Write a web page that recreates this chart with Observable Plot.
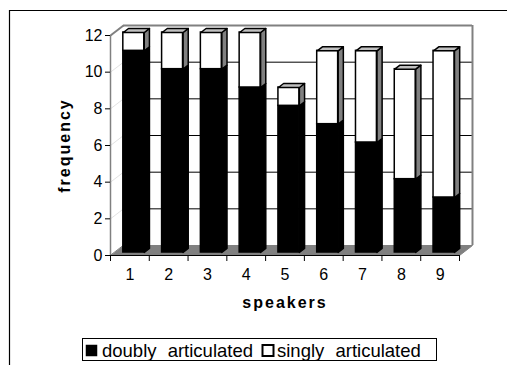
<!DOCTYPE html>
<html>
<head>
<meta charset="utf-8">
<script src="https://cdn.jsdelivr.net/npm/d3@7"></script>
<script src="https://cdn.jsdelivr.net/npm/@observablehq/plot@0.6"></script>
<style>
  body { margin: 0; background: #fff; }
  #chart { position: relative; width: 507px; height: 365px; overflow: hidden; }
</style>
</head>
<body>
<div id="chart"></div>
<script>
// Speakers on the x axis, stacked counts per articulation type
const speakers = [1, 2, 3, 4, 5, 6, 7, 8, 9];
const doubly = [11, 10, 10, 9, 8, 7, 6, 4, 3];
const singly = [1, 2, 2, 3, 1, 4, 5, 6, 8];
const seriesNames = ["doubly articulated", "singly articulated"];
const yTicks = [0, 2, 4, 6, 8, 10, 12];
const xTitle = "speakers";
const yTitle = "frequency";

// Oblique depth of the 3-D box, expressed in data units (x: category, y: frequency)
const depth = {x: 0.335, y: 0.545};
const barFront = 0.3, barBack = 0.7, halfWidth = 0.27;
const f = {x: depth.x * barFront, y: depth.y * barFront};
const b = {x: depth.x * barBack, y: depth.y * barBack};

const xMin = speakers[0] - 0.5, xMax = speakers[speakers.length - 1] + 0.5;
const yMax = yTicks[yTicks.length - 1];
const boundaries = [xMin, ...speakers.map(s => s + 0.5)];

// Stacked segments
const segments = [];
speakers.forEach((s, i) => {
  segments.push({s, series: 0, y0: 0, y1: doubly[i]});
  segments.push({s, series: 1, y0: doubly[i], y1: doubly[i] + singly[i]});
});

// Right-hand side face of each segment
const sideFaces = segments.flatMap((d, k) => {
  const xr = d.s + halfWidth;
  return [[xr + f.x, d.y0 + f.y], [xr + b.x, d.y0 + b.y], [xr + b.x, d.y1 + b.y], [xr + f.x, d.y1 + f.y]]
    .map(([x, y]) => ({x, y, id: k, series: d.series}));
});
// Top face of each stack
const topFaces = segments.filter(d => d.series === 1).flatMap((d, k) => {
  const xl = d.s - halfWidth, xr = d.s + halfWidth, t = d.y1;
  return [[xl + f.x, t + f.y], [xr + f.x, t + f.y], [xr + b.x, t + b.y], [xl + b.x, t + b.y]]
    .map(([x, y]) => ({x, y, id: k}));
});
// Floor of the box
const floor = [[xMin, 0], [xMax, 0], [xMax + depth.x, depth.y], [xMin + depth.x, depth.y]]
  .map(([x, y]) => ({x, y}));

const gray = "#808080";
const font = "'Liberation Sans', Arial, sans-serif";

const chart = Plot.plot({
  width: 507,
  height: 365,
  marginLeft: 110,
  marginRight: 48,
  marginTop: 35,
  marginBottom: 110,
  style: {fontFamily: font, fontSize: "15px", background: "white", overflow: "visible"},
  x: {type: "linear", domain: [xMin, xMax]},
  y: {type: "linear", domain: [0, yMax]},
  marks: [
    // back wall
    Plot.rect([0], {x1: xMin + depth.x, x2: xMax + depth.x, y1: depth.y, y2: yMax + depth.y, fill: "white"}),
    Plot.ruleY(yTicks.filter(v => v > 0 && v < yMax), {y: d => d + depth.y, x1: xMin + depth.x, x2: xMax + depth.x, stroke: "black", strokeWidth: 1}),
    // faint lines on the side wall
    Plot.link(yTicks.filter(v => v > 0 && v < yMax), {x1: xMin, y1: d => d, x2: xMin + depth.x, y2: d => d + depth.y, stroke: "#e2e2e2", strokeWidth: 1}),
    // wall edges
    Plot.ruleY([yMax], {y: d => d + depth.y, x1: xMin + depth.x, x2: xMax + depth.x, stroke: gray, strokeWidth: 2}),
    Plot.ruleX([xMax], {x: d => d + depth.x, y1: depth.y, y2: yMax + depth.y, stroke: gray, strokeWidth: 2}),
    Plot.link([0], {x1: xMin, y1: yMax, x2: xMin + depth.x, y2: yMax + depth.y, stroke: gray, strokeWidth: 2}),
    Plot.ruleX([xMin], {y1: 0, y2: yMax, stroke: gray, strokeWidth: 1.5}),
    // floor
    Plot.line(floor, {x: "x", y: "y", fill: gray, stroke: gray, strokeWidth: 1, curve: "linear-closed"}),
    // bars: side faces, front faces, top faces
    Plot.line(sideFaces.filter(d => d.series === 0), {x: "x", y: "y", z: "id", fill: "black", stroke: "black", strokeWidth: 1.5, curve: "linear-closed"}),
    Plot.line(sideFaces.filter(d => d.series === 1), {x: "x", y: "y", z: "id", fill: gray, stroke: "black", strokeWidth: 1.5, curve: "linear-closed"}),
    Plot.rect(segments.filter(d => d.series === 0), {x1: d => d.s - halfWidth + f.x, x2: d => d.s + halfWidth + f.x, y1: d => d.y0 + f.y, y2: d => d.y1 + f.y, fill: "black", stroke: "black", strokeWidth: 1.5}),
    Plot.rect(segments.filter(d => d.series === 1), {x1: d => d.s - halfWidth + f.x, x2: d => d.s + halfWidth + f.x, y1: d => d.y0 + f.y, y2: d => d.y1 + f.y, fill: "white", stroke: "black", strokeWidth: 1.5}),
    Plot.line(topFaces, {x: "x", y: "y", z: "id", fill: "#c0c0c0", stroke: "black", strokeWidth: 1.5, curve: "linear-closed"}),
    // axes
    Plot.ruleY([0], {x1: xMin, x2: xMax, stroke: "black", strokeWidth: 1}),
    Plot.axisY({ticks: yTicks, tickSize: 5, tickPadding: 3, label: null, stroke: "black", fontSize: 16}),
    Plot.axisX({ticks: boundaries, tickSize: 6, tickFormat: () => "", label: null, stroke: "black"}),
    Plot.axisX({ticks: speakers, tickSize: 0, tickPadding: 13, label: null, fontSize: 16}),
    Plot.text([yTitle], {frameAnchor: "left", dx: -46, rotate: -90, textAnchor: "middle", lineAnchor: "middle", fontSize: 16, fontWeight: "bold"}),
    Plot.text([xTitle], {frameAnchor: "bottom", dy: 47, textAnchor: "middle", lineAnchor: "middle", fontSize: 16, fontWeight: "bold"})
  ]
});

document.getElementById("chart").appendChild(chart);
const svg = d3.select(chart);
svg.selectAll("text")
  .filter(function() { return this.textContent === xTitle || this.textContent === yTitle; })
  .style("letter-spacing", "2px");

// outer chart border
svg.append("path")
  .attr("d", "M9.5,366V10.5H508")
  .attr("fill", "none").attr("stroke", "black").attr("stroke-width", 1.2);

// legend
const legend = svg.append("g")
  .attr("font-size", 18.5).attr("font-family", font).attr("text-anchor", "start");
legend.append("rect").attr("x", 82.5).attr("y", 338.5).attr("width", 354).attr("height", 22)
  .attr("fill", "white").attr("stroke", "black");
const swatchX = [86, 262.5];
const textX = [102, 277];
seriesNames.forEach((name, i) => {
  legend.append("rect").attr("x", swatchX[i]).attr("y", 345).attr("width", 11).attr("height", 11)
    .attr("fill", i === 0 ? "black" : "white").attr("stroke", "black").attr("stroke-width", i === 0 ? 0.5 : 2);
  legend.append("text").attr("x", textX[i]).attr("y", 356.5)
    .attr("text-anchor", "start").style("word-spacing", "6px").text(name);
});
</script>
</body>
</html>
